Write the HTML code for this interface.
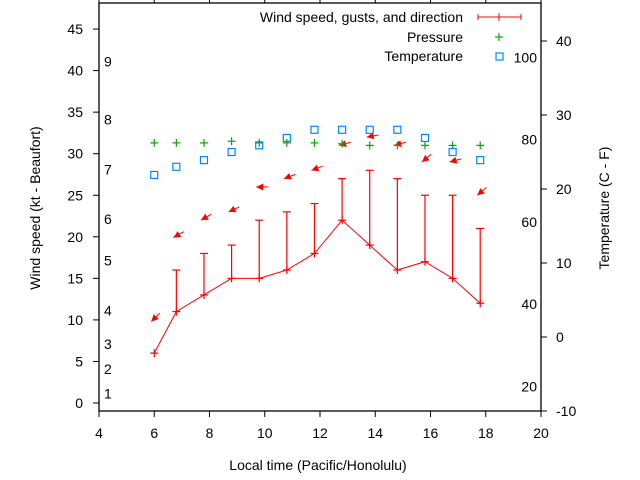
<!DOCTYPE html>
<html><head><meta charset="utf-8"><style>
body{margin:0;background:#fff}
svg{display:block;font-family:"Liberation Sans",Arial,sans-serif}
</style></head><body>
<svg id="chart" width="640" height="480" viewBox="0 0 640 480" xmlns="http://www.w3.org/2000/svg">
<g id="axes"></g>
<g id="marks"></g>
<g id="legend"></g>
</svg>
<script>
const times=[6.0,6.8,7.8,8.8,9.8,10.8,11.8,12.8,13.8,14.8,15.8,16.8,17.8];
const windKt=[6,11,13,15,15,16,18,22,19,16,17,15,12];
const gustKt=[6,16,18,19,22,23,24,27,28,27,25,25,21];
const dirY=[9.8,19.9,22,23,26,27,28,31,32,31,29,29,25];
const dirAngle=[45,30,30,25,0,20,20,15,10,15,40,15,40];
const pressure=[31.3,31.3,31.3,31.5,31.3,31.3,31.3,31.2,31.0,31.0,31.0,31.0,31.0];
const tempC=[21.9,23.0,23.9,25.0,25.9,26.9,28.0,28.0,28.0,28.0,26.9,25.0,23.9];
const xTicks=[4,6,8,10,12,14,16,18,20];
const yTicks=[0,5,10,15,20,25,30,35,40,45];
const cTicks=[-10,0,10,20,30,40];
const fLabels=[20,40,60,80,100];
const beaufortKt=[1,4,7,11,17,22,28,34,41];
const beaufortLbl=["1","2","3","4","5","6","7","8","9"];

const L=99,R=541,T=3,B=411;
const X=v=>L+(v-4)*(R-L)/16;
const Y=v=>403-v*8.31;
const YC=c=>337-c*7.4;
const NS="http://www.w3.org/2000/svg";
function mk(parent,tag,attrs,text){const e=document.createElementNS(NS,tag);for(const k in attrs)e.setAttribute(k,attrs[k]);if(text!==undefined)e.textContent=text;parent.appendChild(e);return e;}
const ax=document.getElementById('axes'),mg=document.getElementById('marks'),lg=document.getElementById('legend');

let e=mk(ax,'rect',{x:L,y:T,width:R-L,height:B-T,fill:'none',stroke:'#000','stroke-width':1.3});


xTicks.forEach(v=>{
 mk(ax,'line',{x1:X(v),x2:X(v),y1:B,y2:B+6,stroke:'#000'});
 mk(ax,'line',{x1:X(v),x2:X(v),y1:T,y2:T-6,stroke:'#000'});
 e=mk(ax,'text',{x:X(v),y:B+27,'text-anchor':'middle','font-size':14},String(v));
 
 
});
yTicks.forEach(v=>{
 mk(ax,'line',{x1:L-6,x2:L,y1:Y(v),y2:Y(v),stroke:'#000'});
 e=mk(ax,'text',{x:L-16,y:Y(v)+5,'text-anchor':'end','font-size':14},String(v));
 
 
});
cTicks.forEach(v=>{
 mk(ax,'line',{x1:R,x2:R+6,y1:YC(v),y2:YC(v),stroke:'#000'});
 e=mk(ax,'text',{x:556,y:YC(v)+5,'font-size':14},String(v));
 
 
});
fLabels.forEach(f=>{
 e=mk(ax,'text',{x:537,y:YC((f-32)*5/9)+5,'text-anchor':'end','font-size':14},String(f));
 
 
});
beaufortKt.forEach((k,i)=>{
 e=mk(ax,'text',{x:104,y:Y(k)+4,'font-size':14},beaufortLbl[i]);
 
 
});
e=mk(ax,'text',{x:318,y:470,'text-anchor':'middle','font-size':14},'Local time (Pacific/Honolulu)');


e=mk(ax,'text',{x:40,y:208,'text-anchor':'middle','font-size':14,transform:'rotate(-90 40 208)'},'Wind speed (kt - Beaufort)');


e=mk(ax,'text',{x:609,y:208,'text-anchor':'middle','font-size':14,transform:'rotate(-90 609 208)'},'Temperature (C - F)');



e=mk(mg,'polyline',{points:times.map((t,i)=>X(t)+','+Y(windKt[i])).join(' '),fill:'none',stroke:'#f00','stroke-width':1});


times.forEach((t,i)=>{
 const x=X(t);
 const g=mk(mg,'g',{stroke:'#f00','stroke-width':1.2});
 
 
 if(gustKt[i]>windKt[i]){
  mk(g,'line',{x1:x,x2:x,y1:Y(windKt[i]),y2:Y(gustKt[i])});
  mk(g,'line',{x1:x-4,x2:x+4,y1:Y(gustKt[i]),y2:Y(gustKt[i])});
 }
 mk(g,'line',{x1:x-4,x2:x+4,y1:Y(windKt[i]),y2:Y(windKt[i])});
 mk(g,'line',{x1:x,x2:x,y1:Y(windKt[i])-4,y2:Y(windKt[i])+4});
 const a=dirAngle[i]*Math.PI/180, hx=x-3, hy=Y(dirY[i]);
 const tx=hx+12*Math.cos(a), ty=hy-12*Math.sin(a);
 const ag=mk(mg,'g',{});
 
 
 mk(ag,'line',{x1:hx,y1:hy,x2:tx,y2:ty,stroke:'#f00','stroke-width':1});
 const ux=Math.cos(a),uy=-Math.sin(a),px=-uy,py=ux;
 mk(ag,'polygon',{points:`${hx},${hy} ${hx+7*ux+3.5*px},${hy+7*uy+3.5*py} ${hx+7*ux-3.5*px},${hy+7*uy-3.5*py}`,fill:'#f00'});
 const pg=mk(mg,'g',{stroke:'#0a0','stroke-width':1.2});
 
 
 const py2=Y(pressure[i]);
 mk(pg,'line',{x1:x-4,x2:x+4,y1:py2,y2:py2});
 mk(pg,'line',{x1:x,x2:x,y1:py2-4,y2:py2+4});
 e=mk(mg,'rect',{x:x-3.5,y:YC(tempC[i])-3.5,width:7,height:7,fill:'none',stroke:'#08f','stroke-width':1.2});
 
 
});

const lgText=['Wind speed, gusts, and direction','Pressure','Temperature'];
const lgY=[17,37,56];
lgText.forEach((s,i)=>{
 e=mk(lg,'text',{x:463,y:lgY[i]+5,'text-anchor':'end','font-size':14},s);
 
 
});
let g=mk(lg,'g',{stroke:'#f00','stroke-width':1});


mk(g,'line',{x1:478,x2:521,y1:17,y2:17});
mk(g,'line',{x1:478,x2:478,y1:14,y2:20});
mk(g,'line',{x1:521,x2:521,y1:14,y2:20});
mk(g,'line',{x1:499,x2:499,y1:13,y2:21});
g=mk(lg,'g',{stroke:'#0a0','stroke-width':1.2});


mk(g,'line',{x1:495,x2:503,y1:37,y2:37});
mk(g,'line',{x1:499,x2:499,y1:33,y2:41});
e=mk(lg,'rect',{x:496,y:53,width:7,height:7,fill:'none',stroke:'#08f','stroke-width':1.2});


</script>
</body></html>
